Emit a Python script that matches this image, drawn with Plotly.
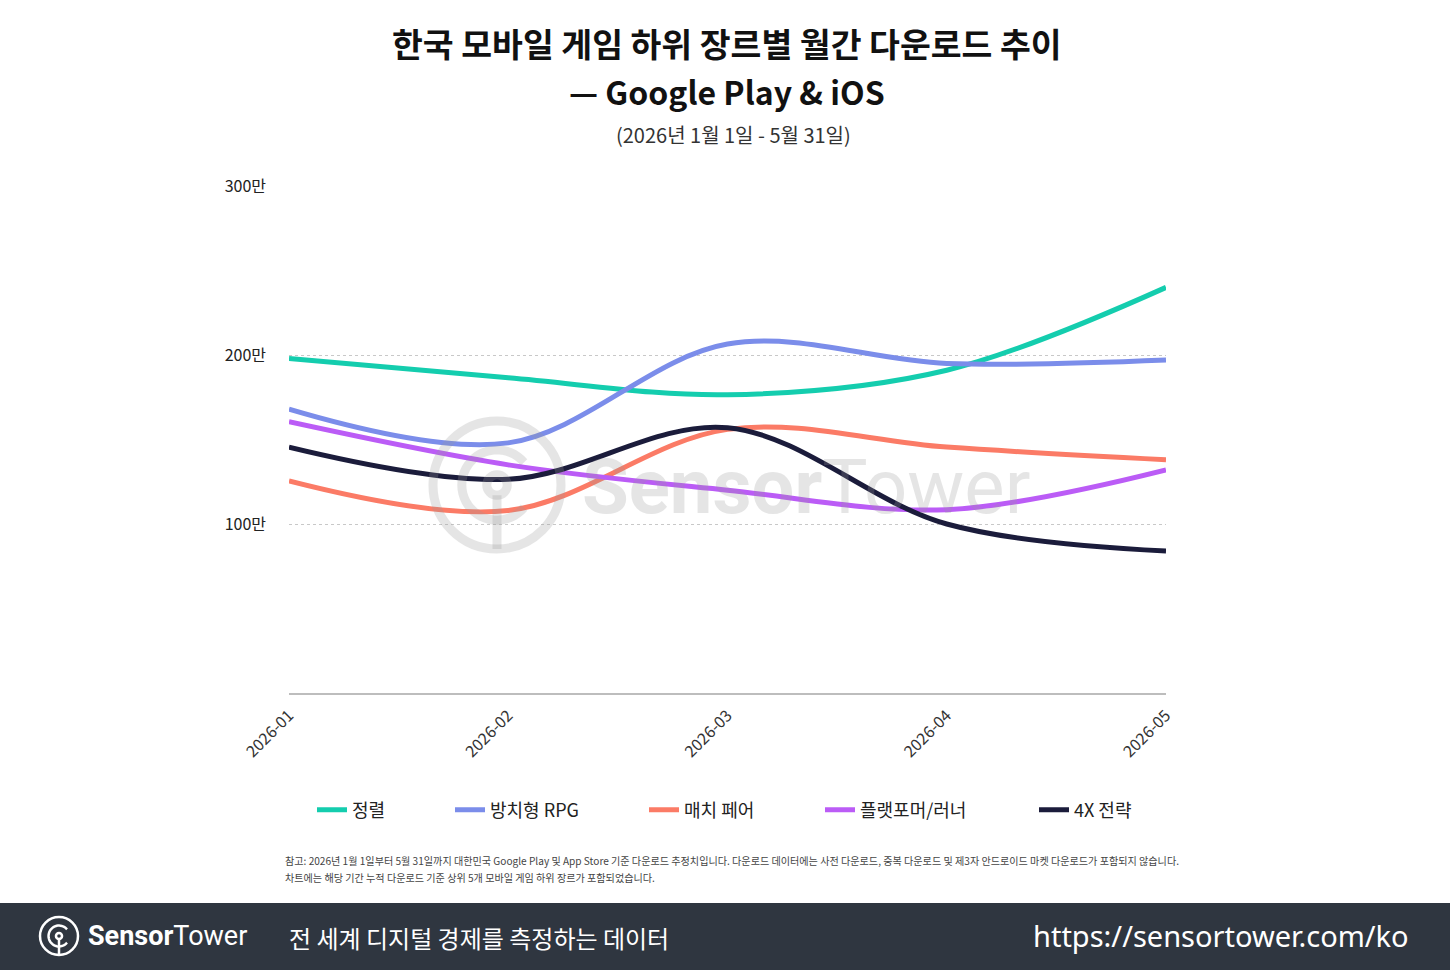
import math
import plotly.graph_objects as go

# ---------------- data ----------------
months = ["2026-01", "2026-02", "2026-03", "2026-04", "2026-05"]
puzzle_sort = [198.0, 186.5, 176.5, 191.0, 240.0]        # 정렬 (만)
idle_rpg = [168.0, 148.0, 206.5, 195.0, 197.0]           # 방치형 RPG
match_pair = [125.5, 108.0, 156.0, 145.5, 138.0]         # 매치 페어
platformer = [160.5, 135.0, 120.0, 108.5, 132.0]         # 플랫포머/러너
strategy_4x = [145.5, 126.5, 157.0, 100.0, 84.0]         # 4X 전략

series_names = ["정렬", "방치형 RPG", "매치 페어", "플랫포머/러너", "4X 전략"]
series_values = [puzzle_sort, idle_rpg, match_pair, platformer, strategy_4x]
series_colors = ["#14CDAE", "#7B8DEA", "#FB7B66", "#BB5CF6", "#1B1C3B"]

y_tickvals = [100, 200, 300]
y_ticktext = ["100만", "200만", "300만"]

# ---------------- geometry helpers ----------------
W, H = 1450, 970
PL, PR, PT, PB = 289, 1166, 186, 693


def px(xp):
    return (xp - PL) / (PR - PL)


def py(yp):
    return (PB - yp) / (PB - PT)


FONT = "Noto Sans CJK KR"

fig = go.Figure()
legend_ids = ["legend", "legend2", "legend3", "legend4", "legend5"]
for name, vals, col, lg in zip(series_names, series_values, series_colors, legend_ids):
    fig.add_trace(go.Scatter(
        x=months, y=vals, name=name, mode="lines",
        line=dict(color=col, width=5, shape="spline", smoothing=1.0),
        legend=lg, hoverinfo="skip",
    ))

# legends positioned individually
legend_text_x = [354, 492, 686, 862, 1076]
layout_legends = {}
for lg, tx in zip(legend_ids, legend_text_x):
    layout_legends[lg] = dict(
        x=px(tx - 42), y=py(810), xanchor="left", yanchor="middle",
        orientation="h", bgcolor="rgba(0,0,0,0)",
        font=dict(family=FONT, size=18, color="#222222"),
        itemwidth=30,
    )

shapes = []
annotations = []

# footer bar
shapes.append(dict(type="rect", xref="paper", yref="paper",
                   x0=px(0), x1=px(W), y0=py(903), y1=py(H + 2),
                   fillcolor="#2F3640", line=dict(width=0), layer="below"))


def logo(cx, cy, r, color, width, opacity=1.0, layer="above"):
    out = []
    out.append(dict(type="circle", xref="paper", yref="paper",
                    x0=px(cx - r), x1=px(cx + r), y0=py(cy + r), y1=py(cy - r),
                    line=dict(color=color, width=width), opacity=opacity, layer=layer))
    # inner open arc (gap at the bottom)
    ri = r * 0.55
    pts = []
    for i in range(0, 41):
        a = math.radians(-50 + i * (280 / 40)) + math.pi
        pts.append((cx + ri * math.sin(a), cy - ri * math.cos(a)))
    path = "M " + " L ".join(f"{px(a):.5f},{py(b):.5f}" for a, b in pts)
    out.append(dict(type="path", xref="paper", yref="paper", path=path,
                    line=dict(color=color, width=width), opacity=opacity, layer=layer))
    rd = r * 0.16
    out.append(dict(type="circle", xref="paper", yref="paper",
                    x0=px(cx - rd), x1=px(cx + rd), y0=py(cy + rd), y1=py(cy - rd),
                    line=dict(color=color, width=width), opacity=opacity, layer=layer))
    out.append(dict(type="line", xref="paper", yref="paper",
                    x0=px(cx), x1=px(cx), y0=py(cy + rd), y1=py(cy + r),
                    line=dict(color=color, width=width), opacity=opacity, layer=layer))
    return out


# watermark
shapes += logo(497, 485, 64, "#9a9a9a", 9, opacity=0.25)
annotations.append(dict(xref="paper", yref="paper", x=px(580), y=py(487),
                        xanchor="left", yanchor="middle", showarrow=False,
                        text="<b>Sensor</b>Tower", opacity=0.25,
                        font=dict(family="Roboto", size=76, color="#9a9a9a")))

# footer logo
shapes += logo(59, 936, 19, "#FFFFFF", 2.5)
annotations.append(dict(xref="paper", yref="paper", x=px(86), y=py(936),
                        xanchor="left", yanchor="middle", showarrow=False,
                        text="<b>Sensor</b>Tower",
                        font=dict(family="Roboto", size=27, color="#FFFFFF")))
annotations.append(dict(xref="paper", yref="paper", x=px(287), y=py(937),
                        xanchor="left", yanchor="middle", showarrow=False,
                        text="전 세계 디지털 경제를 측정하는 데이터",
                        font=dict(family=FONT, size=24, color="#FFFFFF")))
annotations.append(dict(xref="paper", yref="paper", x=px(1411), y=py(935),
                        xanchor="right", yanchor="middle", showarrow=False,
                        text="https://sensortower.com/ko",
                        font=dict(family="Noto Sans", size=29, color="#FFFFFF")))

# titles
annotations.append(dict(xref="paper", yref="paper", x=px(727), y=py(42),
                        xanchor="center", yanchor="middle", showarrow=False,
                        text="<b>한국 모바일 게임 하위 장르별 월간 다운로드 추이</b>",
                        font=dict(family=FONT, size=33.5, color="#111111")))
annotations.append(dict(xref="paper", yref="paper", x=px(727), y=py(91),
                        xanchor="center", yanchor="middle", showarrow=False,
                        text="<b>— Google Play & iOS</b>",
                        font=dict(family=FONT, size=32, color="#111111")))
annotations.append(dict(xref="paper", yref="paper", x=px(733), y=py(135),
                        xanchor="center", yanchor="middle", showarrow=False,
                        text="(2026년 1월 1일 - 5월 31일)",
                        font=dict(family=FONT, size=20, color="#333333")))

# footnote (two lines)
footnote_lines = [
    "참고: 2026년 1월 1일부터 5월 31일까지 대한민국 Google Play 및 App Store 기준 다운로드 추정치입니다. "
    "다운로드 데이터에는 사전 다운로드, 중복 다운로드 및 제3자 안드로이드 마켓 다운로드가 포함되지 않습니다.",
    "차트에는 해당 기간 누적 다운로드 기준 상위 5개 모바일 게임 하위 장르가 포함되었습니다.",
]
for line, yy in zip(footnote_lines, [860, 877]):
    annotations.append(dict(xref="paper", yref="paper", x=px(283), y=py(yy),
                            xanchor="left", yanchor="middle", showarrow=False, align="left",
                            text=line,
                            font=dict(family=FONT, size=10.1, color="#444444")))

fig.update_layout(
    width=W, height=H,
    margin=dict(l=PL, r=W - PR, t=PT, b=H - PB, pad=0),
    paper_bgcolor="#FFFFFF", plot_bgcolor="#FFFFFF",
    showlegend=True,
    shapes=shapes, annotations=annotations,
    hovermode=False,
    **layout_legends,
)
fig.update_xaxes(type="category", range=[0, 4], showgrid=False, zeroline=False,
                 showline=True, linecolor="#BDBDBD", linewidth=1.5,
                 ticks="", tickangle=-45, ticklabelstandoff=5,
                 tickfont=dict(family=FONT, size=16, color="#333333"))
fig.update_yaxes(range=[0, 300], tickvals=y_tickvals, ticktext=y_ticktext,
                 showgrid=True, gridcolor="#C8C8C8", griddash="dot", gridwidth=1,
                 zeroline=False, showline=False, ticks="", ticklabelstandoff=22,
                 tickfont=dict(family=FONT, size=16, color="#222222"))

fig.write_html("out.html")
